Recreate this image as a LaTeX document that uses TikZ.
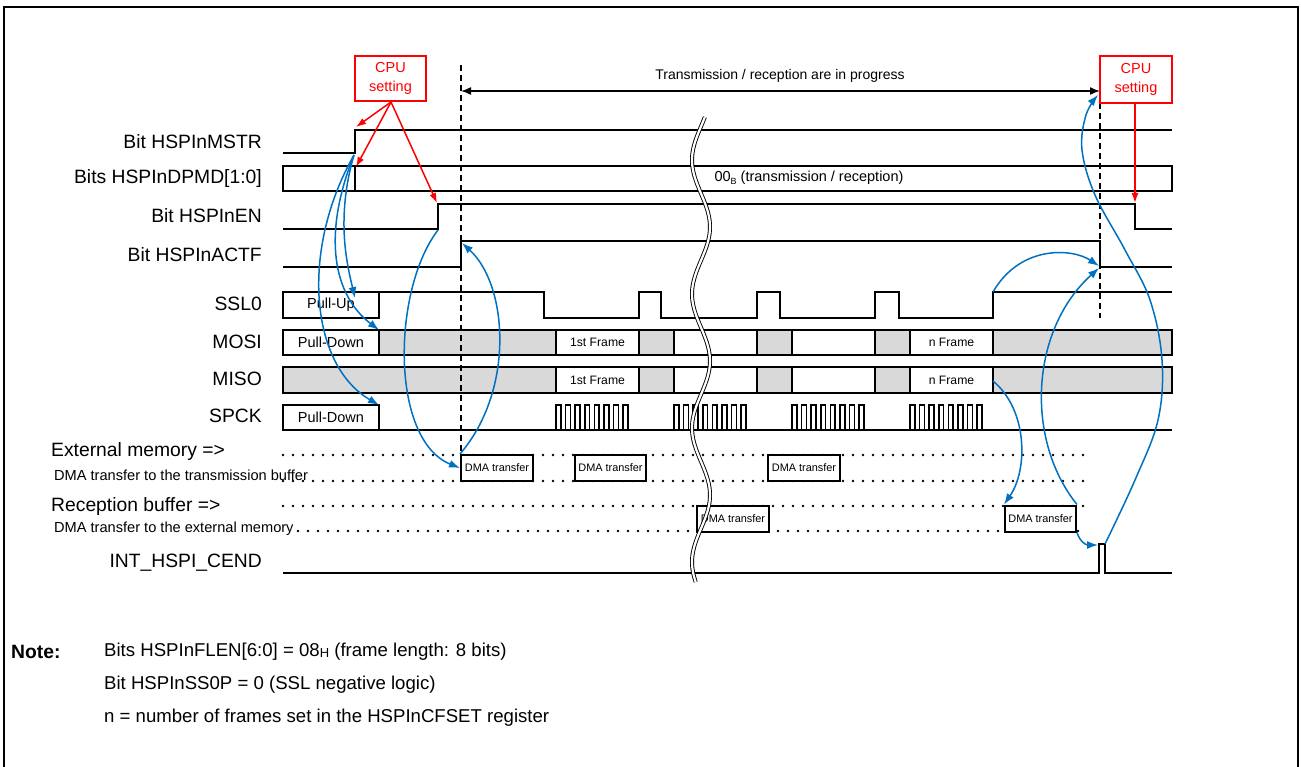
\documentclass[tikz,border=0pt]{standalone}
\usepackage{fontspec}
\setmainfont{Liberation Sans}
\usetikzlibrary{arrows.meta}
\definecolor{arrblue}{RGB}{0,112,192}
\definecolor{grayfill}{RGB}{217,217,217}
\begin{document}
\begin{tikzpicture}[x=1pt,y=-1pt,
  sig/.style={line width=2pt, line join=miter},
  clk/.style={line width=1.6pt, line join=miter},
  lbl/.style={anchor=east, inner sep=0pt, font=\fontsize{19.3}{21}\selectfont},
  lbll/.style={anchor=west, inner sep=0pt, font=\fontsize{19.3}{21}\selectfont},
  notet/.style={anchor=west, inner sep=0pt, font=\fontsize{18.6}{21}\selectfont},
  lbls/.style={anchor=west, inner sep=0pt, font=\fontsize{14.6}{16}\selectfont},
  boxtxt/.style={inner sep=0pt, font=\fontsize{14.5}{16}\selectfont},
  frametxt/.style={inner sep=0pt, font=\fontsize{12.2}{14}\selectfont},
  dmabox/.style={draw, fill=white, line width=2pt, inner sep=0pt, minimum height=26pt, font=\fontsize{10.9}{12}\selectfont},
  cpubox/.style={draw=red, line width=1.5pt, text=red, align=center, inner sep=0pt, font=\fontsize{14.5}{19}\selectfont},
  blu/.style={draw=arrblue, line width=1.5pt, -{Latex[length=11pt,width=8pt]}},
  redarr/.style={draw=red, line width=1.5pt, -{Latex[length=10pt,width=7pt]}},
  dashv/.style={line width=1.6pt, dash pattern=on 6pt off 4pt},
  dots/.style={line width=2.6pt, line cap=round, dash pattern=on 0pt off 10pt},
  gbox/.style={draw, fill=grayfill, line width=2pt},
  wbox/.style={draw, fill=white, line width=2pt}
]
\useasboundingbox (0,0) rectangle (1301,767);
\draw[line width=2pt] (4,7) rectangle (1298,790);

% ---- labels ----
\node[lbl] (lMSTR) at (262,142) {Bit HSPInMSTR};
\node[lbl] (lDPMD) at (262,179) {Bits HSPInDPMD[1:0]};
\node[lbl] (lEN) at (262,216) {Bit HSPInEN};
\node[lbl] (lACTF) at (262,255) {Bit HSPInACTF};
\node[lbl] (lSSL) at (262,304) {SSL0};
\node[lbl] (lMOSI) at (262,342) {MOSI};
\node[lbl] (lMISO) at (262,379) {MISO};
\node[lbl] (lSPCK) at (262,416) {SPCK};
\node[lbll] (lExt1) at (51,452) {External memory =>};
\node[lbls] (lExt2) at (54,475) {DMA transfer to the transmission buffer};
\node[lbll] (lRec1) at (51,507) {Reception buffer =>};
\node[lbls] (lRec2) at (54,529) {DMA transfer to the external memory};
\node[lbl] (lINT) at (262,563) {INT\_HSPI\_CEND};

% ---- dotted DMA rows ----
\draw[dots] (283,455) -- (1086,455);
\draw[dots] (283,481) -- (1086,481);
\draw[dots] (283,506) -- (1086,506);
\draw[dots] (298,531) -- (1086,531);

% ---- MSTR ----
\draw[sig] (283,153) -- (355,153) -- (355,130) -- (1172,130);
\coordinate (mstrRise) at (354,155);
% ---- DPMD ----
\draw[sig] (283,166) rectangle (355,191);
\draw[sig] (355,166) rectangle (1172,191);
\node[inner sep=0pt, font=\fontsize{14.5}{16}\selectfont] (dpmdtxt) at (809,178) {00{\fontsize{9}{9}\selectfont\raisebox{-2.5pt}{B}} (transmission / reception)};
% ---- EN ----
\draw[sig] (283,229) -- (438,229) -- (438,204) -- (1135,204) -- (1135,229) -- (1172,229);
\coordinate (enRise) at (438,230);
% ---- ACTF ----
\draw[sig] (283,267) -- (461,267) -- (461,241) -- (1100,241) -- (1100,267) -- (1172,267);

% ---- SSL0 ----
\draw[wbox] (283,292) rectangle (379,318);
\node[boxtxt] (pullup) at (331,305) {Pull-Up};
\draw[sig] (379,292) -- (544,292) -- (544,318) -- (639,318) -- (639,292) -- (661,292) -- (661,318) -- (757,318) -- (757,292) -- (780,292) -- (780,318) -- (875,318) -- (875,292) -- (899,292) -- (899,318) -- (993,318) -- (993,292) -- (1172,292);
\coordinate (sslRise) at (993,292);

% ---- MOSI ----
\foreach \a/\b/\s in {283/379/wbox,379/556/gbox,556/639/wbox,639/674/gbox,674/757/wbox,757/792/gbox,792/875/wbox,875/910/gbox,910/993/wbox,993/1172/gbox}
  \draw[\s] (\a,330) rectangle (\b,355);
\node[boxtxt] (mosiPD) at (331,342.5) {Pull-Down};
\node[frametxt] (mosi1) at (597.5,342.5) {1st Frame};
\node[frametxt] (mosin) at (951.5,342.5) {n Frame};

% ---- MISO ----
\foreach \a/\b/\s in {283/556/gbox,556/639/wbox,639/674/gbox,674/757/wbox,757/792/gbox,792/875/wbox,875/910/gbox,910/993/wbox,993/1172/gbox}
  \draw[\s] (\a,367) rectangle (\b,393);
\node[frametxt] (miso1) at (597.5,380) {1st Frame};
\node[frametxt] (mison) at (951.5,380) {n Frame};
\coordinate (misoN) at (993,381);

% ---- SPCK ----
\draw[wbox] (283,405) rectangle (379,430);
\node[boxtxt] (spckPD) at (331,417.5) {Pull-Down};
\draw[sig] (379,430) -- (1172,430);
\foreach \s in {556,674,792,910}
  \draw[clk] (\s,430) \foreach \k in {0,...,7} { -- ++(0,-25) -- ++(4.8,0) -- ++(0,25) -- ++(4.8,0) };

% ---- DMA boxes ----
\node[dmabox, minimum width=72pt] (dma1) at (497,468) {DMA transfer};
\node[dmabox, minimum width=71pt] (dma2) at (610.5,468) {DMA transfer};
\node[dmabox, minimum width=72pt] (dma3) at (804,468) {DMA transfer};
\node[dmabox, minimum width=72pt] (dma4) at (733,518.5) {DMA transfer};
\node[dmabox, minimum width=71pt] (dma5) at (1040.5,518.5) {DMA transfer};

% ---- INT ----
\draw[sig] (283,573) -- (1099,573) -- (1099,544) -- (1105,544) -- (1105,573) -- (1172,573);
\coordinate (intL) at (1098,545);
\coordinate (intR) at (1105,544);

% ---- dashed lines and progress arrow ----
\draw[dashv] (461,65) -- (461,455);
\draw[dashv] (1100,103) -- (1100,318);
\coordinate (pL) at (461,91);
\coordinate (pR) at (1100,91);
\draw[line width=1.5pt, {Latex[length=10pt,width=8pt]}-{Latex[length=10pt,width=8pt]}] (pL) -- (pR);
\node[inner sep=0pt, font=\fontsize{14}{16}\selectfont] (progress) at (780,76) {Transmission / reception are in progress};

% ---- CPU setting boxes ----
\node[cpubox, minimum width=71pt, minimum height=45pt] (cpu1) at (390.5,78.5) {CPU\\setting};
\node[cpubox, minimum width=72pt, minimum height=47pt] (cpu2) at (1136,79.5) {CPU\\setting};
\coordinate (cpu1b) at (391,102);
\coordinate (cpu2b) at (1135,103);
\coordinate (enFall) at (1135,203);
\draw[redarr] (cpu1b) -- (356,127);
\draw[redarr] (cpu1b) -- (356,167);
\draw[redarr] (cpu1b) -- (437,203);
\draw[redarr] (cpu2b) -- (enFall);

% ---- break symbol ----
\draw[line width=0.9pt, double=white, double distance=2.2pt] plot[domain=117:582, samples=100, smooth, variable=\t] ({701+9*sin((\t-59.5)*2.68657)}, \t);

% ---- blue arrows ----
\draw[blu] (mstrRise) .. controls (335,220) and (348,268) .. (pullup.north east);
\draw[blu] (mstrRise) .. controls (322,235) and (333,295) .. (379,330);
\draw[blu] (mstrRise) .. controls (300,250) and (310,365) .. (379,405);
\draw[blu] (enRise) .. controls (392,290) and (390,440) .. (dma1.west);
\draw[blu] (dma1.north west) .. controls (515,390) and (508,285) .. (462,243);
\draw[blu] (sslRise) .. controls (1020,245) and (1072,248) .. (1099,266);
\draw[blu] (dma5.north east) .. controls (1025,440) and (1030,330) .. (1099,268);
\draw[blu] (misoN) .. controls (1028,410) and (1028,470) .. (dma5.north west);
\draw[blu] (dma5.south east) .. controls (1080,542) and (1086,545) .. (intL);
\draw[blu] plot[smooth, tension=0.6] coordinates {(intR) (1135,480) (1158,420) (1162,360) (1150,300) (1125,250) (1095,195) (1082,150) (1086,115) (1098,95)};

% ---- note ----
\node[anchor=west, inner sep=0pt, font=\bfseries\fontsize{19.3}{21}\selectfont] (note) at (11,652) {Note:};
\node[notet] (n1) at (104,652) {Bits HSPInFLEN[6:0] = 08{\fontsize{13}{13}\selectfont\raisebox{-1pt}{H}} (frame length: 8 bits)};
\node[notet] (n2) at (104,685) {Bit HSPInSS0P = 0 (SSL negative logic)};
\node[notet] (n3) at (104,718) {n = number of frames set in the HSPInCFSET register};
\end{tikzpicture}
\end{document}
